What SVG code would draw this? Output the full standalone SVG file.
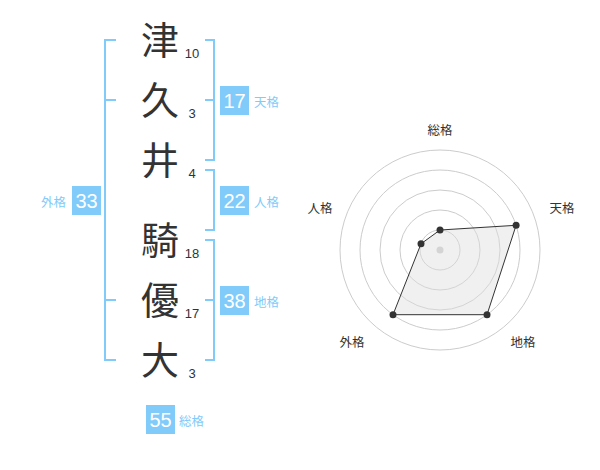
<svg xmlns="http://www.w3.org/2000/svg" width="600" height="470" viewBox="0 0 600 470">
<style>
text{font-family:"Liberation Sans","Noto Sans CJK JP",sans-serif}
.ch{font-size:38px;fill:#333;text-anchor:middle}
.num{font-size:13px;fill:#333;text-anchor:middle}
.box{fill:#80cbfa}
.bt{font-size:20px;fill:#fff;text-anchor:middle}
.lb{font-size:12.5px;fill:#80cbfa}
.br{fill:none;stroke:#80cbfa;stroke-width:2}
.ring{fill:none;stroke:#ccc;stroke-width:1}
.rl{font-size:12.5px;fill:#333;text-anchor:middle}
.pt{fill:#333}
</style>
<rect width="600" height="470" fill="#fff"/>
<g id="chars">
<g id="c1"><text class="ch" x="160" y="54">津</text><text class="num" x="192" y="58">10</text></g>
<g id="c2"><text class="ch" x="160" y="114">久</text><text class="num" x="192" y="118">3</text></g>
<g id="c3"><text class="ch" x="160" y="174">井</text><text class="num" x="192" y="178">4</text></g>
<g id="c4"><text class="ch" x="160" y="254">騎</text><text class="num" x="192" y="258">18</text></g>
<g id="c5"><text class="ch" x="160" y="314">優</text><text class="num" x="192" y="318">17</text></g>
<g id="c6"><text class="ch" x="160" y="374">大</text><text class="num" x="192" y="378">3</text></g>
</g>
<g id="connectors">
<path class="br" d="M116,40H105V360H116M105,100H116M105,300H116"/>
<path class="br" d="M205,40H214V160H205M205,100H214"/>
<path class="br" d="M205,170H214V230H205"/>
<path class="br" d="M205,240H214V360H205M205,300H214"/>
</g>
<g id="tenkaku"><rect class="box" x="220" y="86" width="29" height="29"/><text class="bt" x="234.5" y="108">17</text><text class="lb" x="254" y="106.5">天格</text></g>
<g id="jinkaku"><rect class="box" x="220" y="186" width="29" height="29"/><text class="bt" x="234.5" y="208">22</text><text class="lb" x="254" y="206.5">人格</text></g>
<g id="chikaku"><rect class="box" x="220" y="286" width="29" height="29"/><text class="bt" x="234.5" y="308">38</text><text class="lb" x="254" y="306.5">地格</text></g>
<g id="gaikaku"><rect class="box" x="72" y="186" width="29" height="29"/><text class="bt" x="86.5" y="208">33</text><text class="lb" x="41" y="206.5">外格</text></g>
<g id="soukaku"><rect class="box" x="146" y="405" width="29" height="29"/><text class="bt" x="160.5" y="427">55</text><text class="lb" x="179" y="425.5">総格</text></g>
<g id="radar">
<circle class="ring" cx="440" cy="250" r="20"/>
<circle class="ring" cx="440" cy="250" r="40"/>
<circle class="ring" cx="440" cy="250" r="60"/>
<circle class="ring" cx="440" cy="250" r="80"/>
<circle class="ring" cx="440" cy="250" r="100"/>
<circle cx="440" cy="250" r="3.5" fill="#ccc"/>
<polygon points="440,230 516.1,225.3 487,314.7 393,314.7 421,243.8" fill="#ddd" fill-opacity="0.45" stroke="#333" stroke-width="1"/>
<circle class="pt" cx="440" cy="230" r="3.5"/>
<circle class="pt" cx="516.1" cy="225.3" r="3.5"/>
<circle class="pt" cx="487" cy="314.7" r="3.5"/>
<circle class="pt" cx="393" cy="314.7" r="3.5"/>
<circle class="pt" cx="421" cy="243.8" r="3.5"/>
<text class="rl" x="440" y="135">総格</text>
<text class="rl" x="562" y="213">天格</text>
<text class="rl" x="320" y="213">人格</text>
<text class="rl" x="352" y="347">外格</text>
<text class="rl" x="523" y="347">地格</text>
</g>
</svg>
